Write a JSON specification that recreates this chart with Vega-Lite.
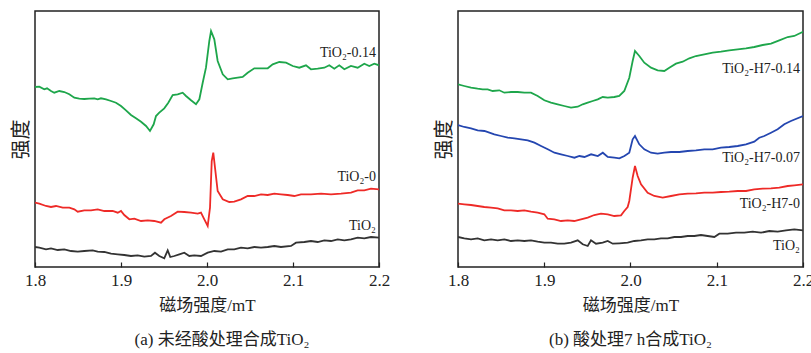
{
  "$schema": "https://vega.github.io/schema/vega-lite/v6.json",
  "padding": {"left": 10, "top": 10, "right": 5, "bottom": 0},
  "background": "white",
  "config": {
    "font": "Liberation Serif, Noto Sans CJK SC",
    "view": {"stroke": "#222", "strokeWidth": 1.5},
    "axis": {"labelFont": "Liberation Serif, Noto Sans CJK SC", "titleFont": "Liberation Serif, Noto Sans CJK SC", "labelColor": "#222", "titleColor": "#222", "titleFontWeight": "normal", "grid": false},
    "title": {"font": "Liberation Serif, Noto Sans CJK SC", "fontWeight": "normal", "color": "#222"},
    "concat": {"spacing": 79}
  },
  "bounds": "flush",
  "datasets": {
    "lines": [
      {"panel":"a","series":"TiO2-0.14","x":1.8,"y":180},{"panel":"a","series":"TiO2-0.14","x":1.805,"y":180.3},{"panel":"a","series":"TiO2-0.14","x":1.8108,"y":177.7},{"panel":"a","series":"TiO2-0.14","x":1.814,"y":178.7},{"panel":"a","series":"TiO2-0.14","x":1.8186,"y":176},{"panel":"a","series":"TiO2-0.14","x":1.8224,"y":174.3},{"panel":"a","series":"TiO2-0.14","x":1.8283,"y":176},{"panel":"a","series":"TiO2-0.14","x":1.8341,"y":175},{"panel":"a","series":"TiO2-0.14","x":1.8399,"y":172.7},{"panel":"a","series":"TiO2-0.14","x":1.8457,"y":169.3},{"panel":"a","series":"TiO2-0.14","x":1.8515,"y":168.3},{"panel":"a","series":"TiO2-0.14","x":1.8573,"y":168},{"panel":"a","series":"TiO2-0.14","x":1.8631,"y":168.3},{"panel":"a","series":"TiO2-0.14","x":1.869,"y":168.7},{"panel":"a","series":"TiO2-0.14","x":1.8729,"y":167.7},{"panel":"a","series":"TiO2-0.14","x":1.8767,"y":168.7},{"panel":"a","series":"TiO2-0.14","x":1.8826,"y":167.7},{"panel":"a","series":"TiO2-0.14","x":1.8884,"y":166},{"panel":"a","series":"TiO2-0.14","x":1.8942,"y":164.3},{"panel":"a","series":"TiO2-0.14","x":1.9,"y":161},{"panel":"a","series":"TiO2-0.14","x":1.9058,"y":156.7},{"panel":"a","series":"TiO2-0.14","x":1.9116,"y":152},{"panel":"a","series":"TiO2-0.14","x":1.9174,"y":148.7},{"panel":"a","series":"TiO2-0.14","x":1.9233,"y":145.3},{"panel":"a","series":"TiO2-0.14","x":1.9291,"y":141},{"panel":"a","series":"TiO2-0.14","x":1.9337,"y":136},{"panel":"a","series":"TiO2-0.14","x":1.938,"y":142.7},{"panel":"a","series":"TiO2-0.14","x":1.9407,"y":151},{"panel":"a","series":"TiO2-0.14","x":1.9445,"y":154.3},{"panel":"a","series":"TiO2-0.14","x":1.9503,"y":158.7},{"panel":"a","series":"TiO2-0.14","x":1.955,"y":164.3},{"panel":"a","series":"TiO2-0.14","x":1.9601,"y":172},{"panel":"a","series":"TiO2-0.14","x":1.9659,"y":172.7},{"panel":"a","series":"TiO2-0.14","x":1.9717,"y":174.3},{"panel":"a","series":"TiO2-0.14","x":1.9756,"y":171},{"panel":"a","series":"TiO2-0.14","x":1.9814,"y":166.7},{"panel":"a","series":"TiO2-0.14","x":1.9872,"y":162.7},{"panel":"a","series":"TiO2-0.14","x":1.9911,"y":167.7},{"panel":"a","series":"TiO2-0.14","x":1.995,"y":184.3},{"panel":"a","series":"TiO2-0.14","x":1.9988,"y":199.3},{"panel":"a","series":"TiO2-0.14","x":2.0027,"y":226},{"panel":"a","series":"TiO2-0.14","x":2.0047,"y":236},{"panel":"a","series":"TiO2-0.14","x":2.0085,"y":227.7},{"panel":"a","series":"TiO2-0.14","x":2.0124,"y":206},{"panel":"a","series":"TiO2-0.14","x":2.0183,"y":192.7},{"panel":"a","series":"TiO2-0.14","x":2.0241,"y":187.7},{"panel":"a","series":"TiO2-0.14","x":2.0299,"y":188.7},{"panel":"a","series":"TiO2-0.14","x":2.0357,"y":189.3},{"panel":"a","series":"TiO2-0.14","x":2.0415,"y":190},{"panel":"a","series":"TiO2-0.14","x":2.0473,"y":194.3},{"panel":"a","series":"TiO2-0.14","x":2.055,"y":198.7},{"panel":"a","series":"TiO2-0.14","x":2.0628,"y":198.7},{"panel":"a","series":"TiO2-0.14","x":2.0706,"y":198.7},{"panel":"a","series":"TiO2-0.14","x":2.0764,"y":202.7},{"panel":"a","series":"TiO2-0.14","x":2.0841,"y":205},{"panel":"a","series":"TiO2-0.14","x":2.0919,"y":204.3},{"panel":"a","series":"TiO2-0.14","x":2.0997,"y":201},{"panel":"a","series":"TiO2-0.14","x":2.1073,"y":199.3},{"panel":"a","series":"TiO2-0.14","x":2.1151,"y":201.7},{"panel":"a","series":"TiO2-0.14","x":2.1209,"y":197.7},{"panel":"a","series":"TiO2-0.14","x":2.1287,"y":198.3},{"panel":"a","series":"TiO2-0.14","x":2.1364,"y":199.3},{"panel":"a","series":"TiO2-0.14","x":2.1422,"y":201.7},{"panel":"a","series":"TiO2-0.14","x":2.148,"y":198.3},{"panel":"a","series":"TiO2-0.14","x":2.1538,"y":201.7},{"panel":"a","series":"TiO2-0.14","x":2.1597,"y":197.7},{"panel":"a","series":"TiO2-0.14","x":2.1674,"y":201},{"panel":"a","series":"TiO2-0.14","x":2.1752,"y":199.3},{"panel":"a","series":"TiO2-0.14","x":2.1829,"y":203.3},{"panel":"a","series":"TiO2-0.14","x":2.1887,"y":201},{"panel":"a","series":"TiO2-0.14","x":2.1945,"y":203.3},{"panel":"a","series":"TiO2-0.14","x":2.2,"y":201.7},
      {"panel":"a","series":"TiO2-0","x":1.8,"y":64.3},{"panel":"a","series":"TiO2-0","x":1.805,"y":63.3},{"panel":"a","series":"TiO2-0","x":1.8128,"y":61},{"panel":"a","series":"TiO2-0","x":1.8186,"y":60},{"panel":"a","series":"TiO2-0","x":1.8244,"y":61},{"panel":"a","series":"TiO2-0","x":1.8322,"y":59.3},{"panel":"a","series":"TiO2-0","x":1.8399,"y":59.3},{"panel":"a","series":"TiO2-0","x":1.8457,"y":57.7},{"panel":"a","series":"TiO2-0","x":1.8497,"y":55.3},{"panel":"a","series":"TiO2-0","x":1.8573,"y":56.7},{"panel":"a","series":"TiO2-0","x":1.8651,"y":56.7},{"panel":"a","series":"TiO2-0","x":1.8729,"y":57.7},{"panel":"a","series":"TiO2-0","x":1.8806,"y":56},{"panel":"a","series":"TiO2-0","x":1.8903,"y":56},{"panel":"a","series":"TiO2-0","x":1.8962,"y":54.3},{"panel":"a","series":"TiO2-0","x":1.9,"y":56},{"panel":"a","series":"TiO2-0","x":1.9038,"y":52},{"panel":"a","series":"TiO2-0","x":1.9097,"y":47.7},{"panel":"a","series":"TiO2-0","x":1.9155,"y":48.3},{"panel":"a","series":"TiO2-0","x":1.9233,"y":46},{"panel":"a","series":"TiO2-0","x":1.931,"y":46.7},{"panel":"a","series":"TiO2-0","x":1.9387,"y":46},{"panel":"a","series":"TiO2-0","x":1.9465,"y":44.3},{"panel":"a","series":"TiO2-0","x":1.9504,"y":47.7},{"panel":"a","series":"TiO2-0","x":1.9581,"y":51},{"panel":"a","series":"TiO2-0","x":1.9659,"y":55.3},{"panel":"a","series":"TiO2-0","x":1.9736,"y":55},{"panel":"a","series":"TiO2-0","x":1.9814,"y":54.3},{"panel":"a","series":"TiO2-0","x":1.9892,"y":53.3},{"panel":"a","series":"TiO2-0","x":1.993,"y":54.3},{"panel":"a","series":"TiO2-0","x":1.9969,"y":47.7},{"panel":"a","series":"TiO2-0","x":2.0008,"y":41},{"panel":"a","series":"TiO2-0","x":2.0035,"y":59.3},{"panel":"a","series":"TiO2-0","x":2.0055,"y":106},{"panel":"a","series":"TiO2-0","x":2.0073,"y":114.3},{"panel":"a","series":"TiO2-0","x":2.0093,"y":99.3},{"panel":"a","series":"TiO2-0","x":2.0124,"y":76},{"panel":"a","series":"TiO2-0","x":2.0183,"y":67.7},{"panel":"a","series":"TiO2-0","x":2.0259,"y":65},{"panel":"a","series":"TiO2-0","x":2.0317,"y":65.3},{"panel":"a","series":"TiO2-0","x":2.0395,"y":67.7},{"panel":"a","series":"TiO2-0","x":2.0473,"y":71},{"panel":"a","series":"TiO2-0","x":2.055,"y":71},{"panel":"a","series":"TiO2-0","x":2.0628,"y":72.7},{"panel":"a","series":"TiO2-0","x":2.0706,"y":72},{"panel":"a","series":"TiO2-0","x":2.0783,"y":73.3},{"panel":"a","series":"TiO2-0","x":2.086,"y":72.7},{"panel":"a","series":"TiO2-0","x":2.0938,"y":72},{"panel":"a","series":"TiO2-0","x":2.1015,"y":71},{"panel":"a","series":"TiO2-0","x":2.1093,"y":72.7},{"panel":"a","series":"TiO2-0","x":2.1209,"y":72.7},{"panel":"a","series":"TiO2-0","x":2.1326,"y":73.3},{"panel":"a","series":"TiO2-0","x":2.1442,"y":72.7},{"panel":"a","series":"TiO2-0","x":2.1558,"y":73.3},{"panel":"a","series":"TiO2-0","x":2.1674,"y":74.3},{"panel":"a","series":"TiO2-0","x":2.1752,"y":76.7},{"panel":"a","series":"TiO2-0","x":2.1829,"y":76.7},{"panel":"a","series":"TiO2-0","x":2.1907,"y":78.3},{"panel":"a","series":"TiO2-0","x":2.2,"y":77.7},
      {"panel":"a","series":"TiO2","x":1.8,"y":20},{"panel":"a","series":"TiO2","x":1.805,"y":19.3},{"panel":"a","series":"TiO2","x":1.8128,"y":17.7},{"panel":"a","series":"TiO2","x":1.8186,"y":18.7},{"panel":"a","series":"TiO2","x":1.8264,"y":17},{"panel":"a","series":"TiO2","x":1.8341,"y":17.7},{"panel":"a","series":"TiO2","x":1.8419,"y":16},{"panel":"a","series":"TiO2","x":1.8497,"y":15.3},{"panel":"a","series":"TiO2","x":1.8573,"y":16},{"panel":"a","series":"TiO2","x":1.867,"y":16.7},{"panel":"a","series":"TiO2","x":1.8729,"y":15.3},{"panel":"a","series":"TiO2","x":1.8806,"y":15},{"panel":"a","series":"TiO2","x":1.8884,"y":13.3},{"panel":"a","series":"TiO2","x":1.8962,"y":12.7},{"panel":"a","series":"TiO2","x":1.9038,"y":12},{"panel":"a","series":"TiO2","x":1.9116,"y":11},{"panel":"a","series":"TiO2","x":1.9194,"y":11.7},{"panel":"a","series":"TiO2","x":1.9271,"y":10.3},{"panel":"a","series":"TiO2","x":1.9349,"y":11},{"panel":"a","series":"TiO2","x":1.9395,"y":14.3},{"panel":"a","series":"TiO2","x":1.9445,"y":11},{"panel":"a","series":"TiO2","x":1.9503,"y":8.7},{"panel":"a","series":"TiO2","x":1.9543,"y":16.7},{"panel":"a","series":"TiO2","x":1.9573,"y":10},{"panel":"a","series":"TiO2","x":1.962,"y":11},{"panel":"a","series":"TiO2","x":1.9678,"y":12.7},{"panel":"a","series":"TiO2","x":1.9736,"y":14.3},{"panel":"a","series":"TiO2","x":1.9794,"y":11},{"panel":"a","series":"TiO2","x":1.9852,"y":11.7},{"panel":"a","series":"TiO2","x":1.993,"y":11},{"panel":"a","series":"TiO2","x":2.0008,"y":14.3},{"panel":"a","series":"TiO2","x":2.0085,"y":16},{"panel":"a","series":"TiO2","x":2.0163,"y":15.3},{"panel":"a","series":"TiO2","x":2.0241,"y":17.7},{"panel":"a","series":"TiO2","x":2.0317,"y":17.7},{"panel":"a","series":"TiO2","x":2.0395,"y":19.3},{"panel":"a","series":"TiO2","x":2.0473,"y":18.7},{"panel":"a","series":"TiO2","x":2.055,"y":20},{"panel":"a","series":"TiO2","x":2.0628,"y":19.3},{"panel":"a","series":"TiO2","x":2.0706,"y":20},{"panel":"a","series":"TiO2","x":2.0783,"y":21},{"panel":"a","series":"TiO2","x":2.086,"y":20},{"panel":"a","series":"TiO2","x":2.0977,"y":21},{"panel":"a","series":"TiO2","x":2.1035,"y":24.3},{"panel":"a","series":"TiO2","x":2.1132,"y":25},{"panel":"a","series":"TiO2","x":2.1209,"y":26},{"panel":"a","series":"TiO2","x":2.1287,"y":25},{"panel":"a","series":"TiO2","x":2.1364,"y":26.7},{"panel":"a","series":"TiO2","x":2.1442,"y":26},{"panel":"a","series":"TiO2","x":2.152,"y":27.7},{"panel":"a","series":"TiO2","x":2.1597,"y":26.7},{"panel":"a","series":"TiO2","x":2.1674,"y":27.7},{"panel":"a","series":"TiO2","x":2.1752,"y":29.3},{"panel":"a","series":"TiO2","x":2.1829,"y":28.7},{"panel":"a","series":"TiO2","x":2.1907,"y":30},{"panel":"a","series":"TiO2","x":2.2,"y":29.3},
      {"panel":"b","series":"TiO2-H7-0.14","x":1.8,"y":182.7},{"panel":"b","series":"TiO2-H7-0.14","x":1.8073,"y":181},{"panel":"b","series":"TiO2-H7-0.14","x":1.8151,"y":179.3},{"panel":"b","series":"TiO2-H7-0.14","x":1.8228,"y":178.3},{"panel":"b","series":"TiO2-H7-0.14","x":1.8286,"y":177.7},{"panel":"b","series":"TiO2-H7-0.14","x":1.8344,"y":177.7},{"panel":"b","series":"TiO2-H7-0.14","x":1.8402,"y":176},{"panel":"b","series":"TiO2-H7-0.14","x":1.8479,"y":176.7},{"panel":"b","series":"TiO2-H7-0.14","x":1.8537,"y":174.3},{"panel":"b","series":"TiO2-H7-0.14","x":1.8614,"y":175},{"panel":"b","series":"TiO2-H7-0.14","x":1.8692,"y":175},{"panel":"b","series":"TiO2-H7-0.14","x":1.8769,"y":174.3},{"panel":"b","series":"TiO2-H7-0.14","x":1.8846,"y":174.3},{"panel":"b","series":"TiO2-H7-0.14","x":1.8924,"y":171},{"panel":"b","series":"TiO2-H7-0.14","x":1.9001,"y":166.7},{"panel":"b","series":"TiO2-H7-0.14","x":1.9078,"y":164.3},{"panel":"b","series":"TiO2-H7-0.14","x":1.9156,"y":162.7},{"panel":"b","series":"TiO2-H7-0.14","x":1.9232,"y":161},{"panel":"b","series":"TiO2-H7-0.14","x":1.931,"y":159.3},{"panel":"b","series":"TiO2-H7-0.14","x":1.9388,"y":160.3},{"panel":"b","series":"TiO2-H7-0.14","x":1.9446,"y":162.7},{"panel":"b","series":"TiO2-H7-0.14","x":1.9504,"y":164.3},{"panel":"b","series":"TiO2-H7-0.14","x":1.9562,"y":166},{"panel":"b","series":"TiO2-H7-0.14","x":1.962,"y":167.7},{"panel":"b","series":"TiO2-H7-0.14","x":1.9678,"y":170},{"panel":"b","series":"TiO2-H7-0.14","x":1.9736,"y":169.3},{"panel":"b","series":"TiO2-H7-0.14","x":1.9812,"y":170},{"panel":"b","series":"TiO2-H7-0.14","x":1.987,"y":171},{"panel":"b","series":"TiO2-H7-0.14","x":1.9928,"y":176},{"panel":"b","series":"TiO2-H7-0.14","x":1.9986,"y":189.3},{"panel":"b","series":"TiO2-H7-0.14","x":2.0025,"y":206},{"panel":"b","series":"TiO2-H7-0.14","x":2.0052,"y":216},{"panel":"b","series":"TiO2-H7-0.14","x":2.0102,"y":211},{"panel":"b","series":"TiO2-H7-0.14","x":2.016,"y":204.3},{"panel":"b","series":"TiO2-H7-0.14","x":2.0238,"y":199.3},{"panel":"b","series":"TiO2-H7-0.14","x":2.0315,"y":196.7},{"panel":"b","series":"TiO2-H7-0.14","x":2.0392,"y":196},{"panel":"b","series":"TiO2-H7-0.14","x":2.045,"y":199.3},{"panel":"b","series":"TiO2-H7-0.14","x":2.0527,"y":203.3},{"panel":"b","series":"TiO2-H7-0.14","x":2.0605,"y":205.3},{"panel":"b","series":"TiO2-H7-0.14","x":2.0682,"y":208.7},{"panel":"b","series":"TiO2-H7-0.14","x":2.0759,"y":211},{"panel":"b","series":"TiO2-H7-0.14","x":2.0856,"y":212.7},{"panel":"b","series":"TiO2-H7-0.14","x":2.0953,"y":214.3},{"panel":"b","series":"TiO2-H7-0.14","x":2.1049,"y":215.3},{"panel":"b","series":"TiO2-H7-0.14","x":2.1145,"y":216.7},{"panel":"b","series":"TiO2-H7-0.14","x":2.1243,"y":217.7},{"panel":"b","series":"TiO2-H7-0.14","x":2.1339,"y":218.7},{"panel":"b","series":"TiO2-H7-0.14","x":2.1435,"y":220},{"panel":"b","series":"TiO2-H7-0.14","x":2.1533,"y":222},{"panel":"b","series":"TiO2-H7-0.14","x":2.1629,"y":223.3},{"panel":"b","series":"TiO2-H7-0.14","x":2.1725,"y":226.7},{"panel":"b","series":"TiO2-H7-0.14","x":2.1823,"y":230},{"panel":"b","series":"TiO2-H7-0.14","x":2.1899,"y":231},{"panel":"b","series":"TiO2-H7-0.14","x":2.2,"y":235.3},
      {"panel":"b","series":"TiO2-H7-0.07","x":1.8,"y":142},{"panel":"b","series":"TiO2-H7-0.07","x":1.8073,"y":140},{"panel":"b","series":"TiO2-H7-0.07","x":1.8151,"y":138.7},{"panel":"b","series":"TiO2-H7-0.07","x":1.8228,"y":136.7},{"panel":"b","series":"TiO2-H7-0.07","x":1.8306,"y":136},{"panel":"b","series":"TiO2-H7-0.07","x":1.8364,"y":134.3},{"panel":"b","series":"TiO2-H7-0.07","x":1.8421,"y":132.7},{"panel":"b","series":"TiO2-H7-0.07","x":1.8499,"y":131},{"panel":"b","series":"TiO2-H7-0.07","x":1.8577,"y":129.3},{"panel":"b","series":"TiO2-H7-0.07","x":1.8654,"y":128.7},{"panel":"b","series":"TiO2-H7-0.07","x":1.8731,"y":127.7},{"panel":"b","series":"TiO2-H7-0.07","x":1.8809,"y":126.7},{"panel":"b","series":"TiO2-H7-0.07","x":1.8886,"y":124.3},{"panel":"b","series":"TiO2-H7-0.07","x":1.8963,"y":121},{"panel":"b","series":"TiO2-H7-0.07","x":1.9041,"y":117.7},{"panel":"b","series":"TiO2-H7-0.07","x":1.9118,"y":114.3},{"panel":"b","series":"TiO2-H7-0.07","x":1.9195,"y":112.7},{"panel":"b","series":"TiO2-H7-0.07","x":1.9273,"y":111},{"panel":"b","series":"TiO2-H7-0.07","x":1.935,"y":109.3},{"panel":"b","series":"TiO2-H7-0.07","x":1.9408,"y":111},{"panel":"b","series":"TiO2-H7-0.07","x":1.9466,"y":110},{"panel":"b","series":"TiO2-H7-0.07","x":1.9543,"y":112.7},{"panel":"b","series":"TiO2-H7-0.07","x":1.9621,"y":111},{"panel":"b","series":"TiO2-H7-0.07","x":1.9679,"y":114.3},{"panel":"b","series":"TiO2-H7-0.07","x":1.9736,"y":110},{"panel":"b","series":"TiO2-H7-0.07","x":1.9813,"y":109.3},{"panel":"b","series":"TiO2-H7-0.07","x":1.9871,"y":108.7},{"panel":"b","series":"TiO2-H7-0.07","x":1.9929,"y":111},{"panel":"b","series":"TiO2-H7-0.07","x":1.9986,"y":114.3},{"panel":"b","series":"TiO2-H7-0.07","x":2.0025,"y":127.7},{"panel":"b","series":"TiO2-H7-0.07","x":2.0052,"y":131},{"panel":"b","series":"TiO2-H7-0.07","x":2.0102,"y":122.7},{"panel":"b","series":"TiO2-H7-0.07","x":2.016,"y":117.7},{"panel":"b","series":"TiO2-H7-0.07","x":2.0238,"y":114.3},{"panel":"b","series":"TiO2-H7-0.07","x":2.0315,"y":113.3},{"panel":"b","series":"TiO2-H7-0.07","x":2.0392,"y":114.3},{"panel":"b","series":"TiO2-H7-0.07","x":2.047,"y":115},{"panel":"b","series":"TiO2-H7-0.07","x":2.0566,"y":115},{"panel":"b","series":"TiO2-H7-0.07","x":2.0663,"y":116},{"panel":"b","series":"TiO2-H7-0.07","x":2.0759,"y":116.7},{"panel":"b","series":"TiO2-H7-0.07","x":2.0856,"y":117.7},{"panel":"b","series":"TiO2-H7-0.07","x":2.0953,"y":117.7},{"panel":"b","series":"TiO2-H7-0.07","x":2.1049,"y":119.3},{"panel":"b","series":"TiO2-H7-0.07","x":2.1145,"y":120},{"panel":"b","series":"TiO2-H7-0.07","x":2.1243,"y":121},{"panel":"b","series":"TiO2-H7-0.07","x":2.1339,"y":122.7},{"panel":"b","series":"TiO2-H7-0.07","x":2.1435,"y":125.3},{"panel":"b","series":"TiO2-H7-0.07","x":2.1493,"y":129.3},{"panel":"b","series":"TiO2-H7-0.07","x":2.1551,"y":131},{"panel":"b","series":"TiO2-H7-0.07","x":2.1629,"y":134.3},{"panel":"b","series":"TiO2-H7-0.07","x":2.1706,"y":137.7},{"panel":"b","series":"TiO2-H7-0.07","x":2.1783,"y":142.7},{"panel":"b","series":"TiO2-H7-0.07","x":2.186,"y":146},{"panel":"b","series":"TiO2-H7-0.07","x":2.2,"y":151},
      {"panel":"b","series":"TiO2-H7-0","x":1.8,"y":63.3},{"panel":"b","series":"TiO2-H7-0","x":1.8073,"y":62.7},{"panel":"b","series":"TiO2-H7-0","x":1.8151,"y":62},{"panel":"b","series":"TiO2-H7-0","x":1.8228,"y":61},{"panel":"b","series":"TiO2-H7-0","x":1.8305,"y":60},{"panel":"b","series":"TiO2-H7-0","x":1.8383,"y":59.3},{"panel":"b","series":"TiO2-H7-0","x":1.846,"y":58.7},{"panel":"b","series":"TiO2-H7-0","x":1.8537,"y":56.7},{"panel":"b","series":"TiO2-H7-0","x":1.8614,"y":56.7},{"panel":"b","series":"TiO2-H7-0","x":1.8692,"y":56},{"panel":"b","series":"TiO2-H7-0","x":1.8769,"y":56.7},{"panel":"b","series":"TiO2-H7-0","x":1.8846,"y":55.3},{"panel":"b","series":"TiO2-H7-0","x":1.8924,"y":54.3},{"panel":"b","series":"TiO2-H7-0","x":1.9001,"y":52.7},{"panel":"b","series":"TiO2-H7-0","x":1.904,"y":48.3},{"panel":"b","series":"TiO2-H7-0","x":1.9117,"y":47.7},{"panel":"b","series":"TiO2-H7-0","x":1.9194,"y":46},{"panel":"b","series":"TiO2-H7-0","x":1.9272,"y":46.7},{"panel":"b","series":"TiO2-H7-0","x":1.9348,"y":46},{"panel":"b","series":"TiO2-H7-0","x":1.9426,"y":47.7},{"panel":"b","series":"TiO2-H7-0","x":1.9504,"y":49.3},{"panel":"b","series":"TiO2-H7-0","x":1.958,"y":52},{"panel":"b","series":"TiO2-H7-0","x":1.9658,"y":53.3},{"panel":"b","series":"TiO2-H7-0","x":1.9736,"y":52.7},{"panel":"b","series":"TiO2-H7-0","x":1.9812,"y":51},{"panel":"b","series":"TiO2-H7-0","x":1.989,"y":51.7},{"panel":"b","series":"TiO2-H7-0","x":1.9928,"y":56},{"panel":"b","series":"TiO2-H7-0","x":1.9967,"y":60},{"panel":"b","series":"TiO2-H7-0","x":1.9986,"y":66},{"panel":"b","series":"TiO2-H7-0","x":2.0025,"y":89.3},{"panel":"b","series":"TiO2-H7-0","x":2.0052,"y":101},{"panel":"b","series":"TiO2-H7-0","x":2.0083,"y":91},{"panel":"b","series":"TiO2-H7-0","x":2.0122,"y":82.7},{"panel":"b","series":"TiO2-H7-0","x":2.0199,"y":74.3},{"panel":"b","series":"TiO2-H7-0","x":2.0276,"y":71},{"panel":"b","series":"TiO2-H7-0","x":2.0373,"y":69.3},{"panel":"b","series":"TiO2-H7-0","x":2.047,"y":71},{"panel":"b","series":"TiO2-H7-0","x":2.0566,"y":72.7},{"panel":"b","series":"TiO2-H7-0","x":2.0663,"y":73.3},{"panel":"b","series":"TiO2-H7-0","x":2.0759,"y":73.7},{"panel":"b","series":"TiO2-H7-0","x":2.0856,"y":74.3},{"panel":"b","series":"TiO2-H7-0","x":2.0953,"y":74.3},{"panel":"b","series":"TiO2-H7-0","x":2.1049,"y":75},{"panel":"b","series":"TiO2-H7-0","x":2.1145,"y":75.3},{"panel":"b","series":"TiO2-H7-0","x":2.1243,"y":76},{"panel":"b","series":"TiO2-H7-0","x":2.1339,"y":76},{"panel":"b","series":"TiO2-H7-0","x":2.1435,"y":77.7},{"panel":"b","series":"TiO2-H7-0","x":2.1533,"y":78.3},{"panel":"b","series":"TiO2-H7-0","x":2.1629,"y":78.7},{"panel":"b","series":"TiO2-H7-0","x":2.1725,"y":79.3},{"panel":"b","series":"TiO2-H7-0","x":2.1823,"y":81},{"panel":"b","series":"TiO2-H7-0","x":2.1899,"y":81.7},{"panel":"b","series":"TiO2-H7-0","x":2.2,"y":82.7},
      {"panel":"b","series":"TiO2","x":1.8,"y":30},{"panel":"b","series":"TiO2","x":1.8073,"y":28.7},{"panel":"b","series":"TiO2","x":1.8151,"y":27.7},{"panel":"b","series":"TiO2","x":1.8228,"y":28.7},{"panel":"b","series":"TiO2","x":1.8305,"y":26.7},{"panel":"b","series":"TiO2","x":1.8383,"y":27.7},{"panel":"b","series":"TiO2","x":1.846,"y":26.7},{"panel":"b","series":"TiO2","x":1.8537,"y":27.7},{"panel":"b","series":"TiO2","x":1.8614,"y":26},{"panel":"b","series":"TiO2","x":1.8692,"y":26.7},{"panel":"b","series":"TiO2","x":1.8769,"y":26},{"panel":"b","series":"TiO2","x":1.8846,"y":26.7},{"panel":"b","series":"TiO2","x":1.8924,"y":25.3},{"panel":"b","series":"TiO2","x":1.9001,"y":24.3},{"panel":"b","series":"TiO2","x":1.9078,"y":24.3},{"panel":"b","series":"TiO2","x":1.9156,"y":23.3},{"panel":"b","series":"TiO2","x":1.9232,"y":23.3},{"panel":"b","series":"TiO2","x":1.931,"y":24.3},{"panel":"b","series":"TiO2","x":1.9388,"y":26.7},{"panel":"b","series":"TiO2","x":1.9446,"y":22.7},{"panel":"b","series":"TiO2","x":1.9504,"y":21},{"panel":"b","series":"TiO2","x":1.9542,"y":26.7},{"panel":"b","series":"TiO2","x":1.96,"y":23.3},{"panel":"b","series":"TiO2","x":1.9678,"y":24.3},{"panel":"b","series":"TiO2","x":1.9736,"y":26},{"panel":"b","series":"TiO2","x":1.9794,"y":23.3},{"panel":"b","series":"TiO2","x":1.987,"y":23.7},{"panel":"b","series":"TiO2","x":1.9967,"y":24.3},{"panel":"b","series":"TiO2","x":2.0044,"y":26},{"panel":"b","series":"TiO2","x":2.0122,"y":26.7},{"panel":"b","series":"TiO2","x":2.0199,"y":27.7},{"panel":"b","series":"TiO2","x":2.0276,"y":27.7},{"panel":"b","series":"TiO2","x":2.0354,"y":28.7},{"panel":"b","series":"TiO2","x":2.0431,"y":28.7},{"panel":"b","series":"TiO2","x":2.0508,"y":30},{"panel":"b","series":"TiO2","x":2.0586,"y":30},{"panel":"b","series":"TiO2","x":2.0663,"y":31},{"panel":"b","series":"TiO2","x":2.074,"y":31},{"panel":"b","series":"TiO2","x":2.0817,"y":32},{"panel":"b","series":"TiO2","x":2.0895,"y":31},{"panel":"b","series":"TiO2","x":2.0972,"y":30},{"panel":"b","series":"TiO2","x":2.103,"y":33.3},{"panel":"b","series":"TiO2","x":2.1127,"y":33.3},{"panel":"b","series":"TiO2","x":2.1223,"y":34.3},{"panel":"b","series":"TiO2","x":2.1319,"y":34.3},{"panel":"b","series":"TiO2","x":2.1417,"y":35.3},{"panel":"b","series":"TiO2","x":2.1513,"y":34.3},{"panel":"b","series":"TiO2","x":2.1609,"y":36},{"panel":"b","series":"TiO2","x":2.1707,"y":35.3},{"panel":"b","series":"TiO2","x":2.1803,"y":36.7},{"panel":"b","series":"TiO2","x":2.1899,"y":37.7},{"panel":"b","series":"TiO2","x":2.2,"y":36.7}
    ],
    "labels": [
      {"panel":"a","label":"TiO₂-0.14","x":2.2,"y":214},
      {"panel":"a","label":"TiO₂-0","x":2.2,"y":90},
      {"panel":"a","label":"TiO₂","x":2.2,"y":41},
      {"panel":"b","label":"TiO₂-H7-0.14","x":2.2,"y":198},
      {"panel":"b","label":"TiO₂-H7-0.07","x":2.2,"y":109},
      {"panel":"b","label":"TiO₂-H7-0","x":2.2,"y":63},
      {"panel":"b","label":"TiO₂","x":2.2,"y":21}
    ]
  },
  "hconcat": [
    {
      "width": 344, "height": 256,
      "title": {"text": "(a) 未经酸处理合成TiO₂", "orient": "bottom", "fontSize": 17, "offset": 19, "dx": 15},
      "layer": [
        {
          "data": {"name": "lines"},
          "transform": [{"filter": "datum.panel === 'a'"}],
          "mark": {"type": "line", "strokeWidth": 1.8, "clip": true},
          "encoding": {
            "x": {"field": "x", "type": "quantitative", "scale": {"domain": [1.8, 2.2], "nice": false},
              "axis": {"values": [1.8, 1.9, 2.0, 2.1, 2.2], "format": ".1f", "ticks": true, "tickSize": -5, "tickColor": "#222", "tickWidth": 1.2, "domain": false, "labelFontSize": 17, "labelPadding": 10, "title": "磁场强度/mT", "titleFontSize": 17, "titlePadding": 9, "labelFlush": false}},
            "y": {"field": "y", "type": "quantitative", "scale": {"domain": [0, 256], "nice": false},
              "axis": {"labels": false, "ticks": false, "domain": false, "title": "强度", "titleFontSize": 20, "titlePadding": 4}},
            "color": {"field": "series", "type": "nominal", "legend": null,
              "scale": {"domain": ["TiO2-0.14", "TiO2-0", "TiO2", "TiO2-H7-0.14", "TiO2-H7-0.07", "TiO2-H7-0"], "range": ["#1ea64b", "#ee2a27", "#333333", "#1ea64b", "#2446b0", "#ee2a27"]}},
            "order": {"field": "x", "type": "quantitative"}
          }
        },
        {
          "data": {"name": "labels"},
          "transform": [{"filter": "datum.panel === 'a'"}],
          "mark": {"type": "text", "align": "right", "baseline": "middle", "dx": -3, "fontSize": 14, "color": "#222"},
          "encoding": {
            "x": {"field": "x", "type": "quantitative"},
            "y": {"field": "y", "type": "quantitative"},
            "text": {"field": "label"}
          }
        }
      ]
    },
    {
      "width": 345, "height": 256,
      "title": {"text": "(b) 酸处理7 h合成TiO₂", "orient": "bottom", "fontSize": 17, "offset": 19},
      "layer": [
        {
          "data": {"name": "lines"},
          "transform": [{"filter": "datum.panel === 'b'"}],
          "mark": {"type": "line", "strokeWidth": 1.8, "clip": true},
          "encoding": {
            "x": {"field": "x", "type": "quantitative", "scale": {"domain": [1.8, 2.2], "nice": false},
              "axis": {"values": [1.8, 1.9, 2.0, 2.1, 2.2], "format": ".1f", "ticks": true, "tickSize": -5, "tickColor": "#222", "tickWidth": 1.2, "domain": false, "labelFontSize": 17, "labelPadding": 10, "title": "磁场强度/mT", "titleFontSize": 17, "titlePadding": 9, "labelFlush": false}},
            "y": {"field": "y", "type": "quantitative", "scale": {"domain": [0, 256], "nice": false},
              "axis": {"labels": false, "ticks": false, "domain": false, "title": "强度", "titleFontSize": 20, "titlePadding": 4}},
            "color": {"field": "series", "type": "nominal", "legend": null,
              "scale": {"domain": ["TiO2-0.14", "TiO2-0", "TiO2", "TiO2-H7-0.14", "TiO2-H7-0.07", "TiO2-H7-0"], "range": ["#1ea64b", "#ee2a27", "#333333", "#1ea64b", "#2446b0", "#ee2a27"]}},
            "order": {"field": "x", "type": "quantitative"}
          }
        },
        {
          "data": {"name": "labels"},
          "transform": [{"filter": "datum.panel === 'b'"}],
          "mark": {"type": "text", "align": "right", "baseline": "middle", "dx": -3, "fontSize": 14, "color": "#222"},
          "encoding": {
            "x": {"field": "x", "type": "quantitative"},
            "y": {"field": "y", "type": "quantitative"},
            "text": {"field": "label"}
          }
        }
      ]
    }
  ]
}
